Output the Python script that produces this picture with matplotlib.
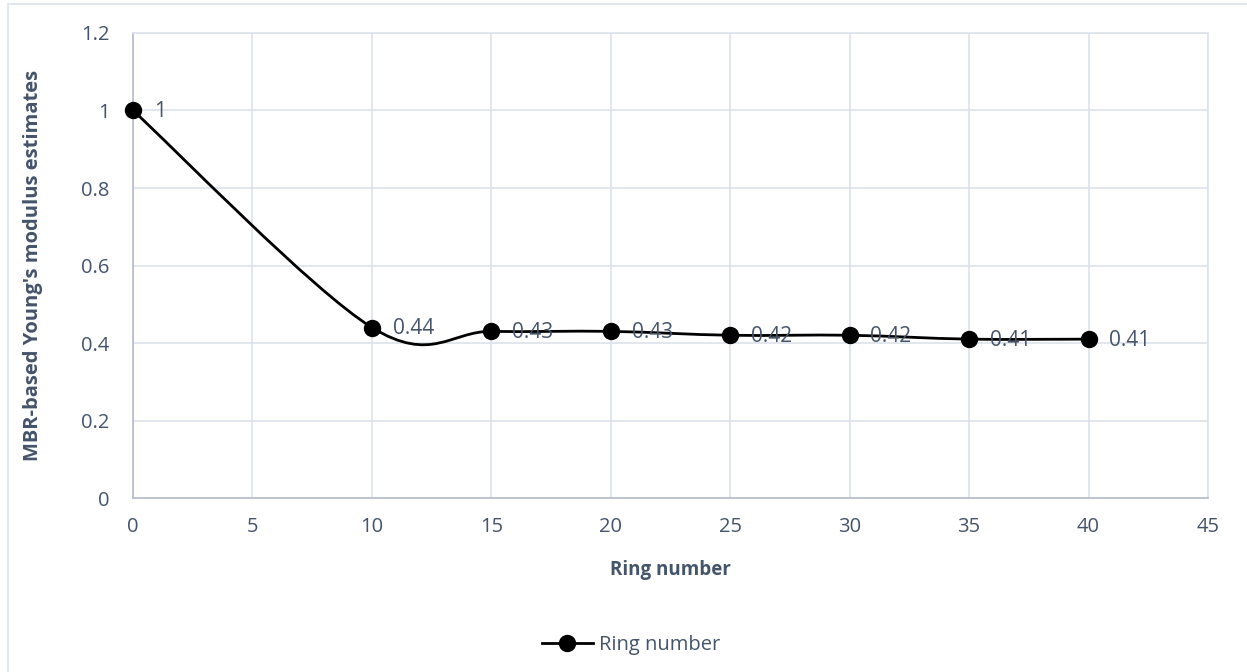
import matplotlib.pyplot as plt
from matplotlib.lines import Line2D
from matplotlib.patches import PathPatch, Rectangle
from matplotlib.path import Path

rings = [0, 10, 15, 20, 25, 30, 35, 40]
modulus = [1, 0.44, 0.43, 0.43, 0.42, 0.42, 0.41, 0.41]
labels = ["1", "0.44", "0.43", "0.43", "0.42", "0.42", "0.41", "0.41"]

TEXT = "#44546A"
GRID = "#DDE1EA"
AXIS = "#B4BCCC"

plt.rcParams["font.family"] = ["Open Sans", "DejaVu Sans"]


def smooth_path(xs, ys):
    # bezier segments like a spreadsheet "smoothed line"
    pts = list(zip(xs, ys))
    verts = [pts[0]]
    codes = [Path.MOVETO]
    n = len(pts)
    for i in range(n - 1):
        p0 = pts[i - 1] if i > 0 else pts[i]
        p1 = pts[i]
        p2 = pts[i + 1]
        p3 = pts[i + 2] if i + 2 < n else pts[i + 1]
        c1 = (p1[0] + (p2[0] - p0[0]) / 6, p1[1] + (p2[1] - p0[1]) / 6)
        c2 = (p2[0] - (p3[0] - p1[0]) / 6, p2[1] - (p3[1] - p1[1]) / 6)
        verts += [c1, c2, p2]
        codes += [Path.CURVE4] * 3
    return Path(verts, codes)


fig = plt.figure(figsize=(12.47, 6.72), dpi=100)
ax = fig.add_axes([0.1067, 0.2589, 0.862, 0.692])

# chart area border (only top and left edges fall inside the image)
fig.patches.append(Rectangle((8 / 1247, -0.1), 1.1, 1.1 - 4 / 672, transform=fig.transFigure,
                             fill=False, edgecolor=GRID, linewidth=1.2))

ax.add_patch(PathPatch(smooth_path(rings, modulus), facecolor="none",
                       edgecolor="black", linewidth=2.0, zorder=3))
ax.plot(rings, modulus, linestyle="none", marker="o", markersize=11.5,
        color="black", zorder=4, clip_on=False)

for x, y, s in zip(rings, modulus, labels):
    ax.annotate(s, (x, y), xytext=(15, -1), textcoords="offset points",
                ha="left", va="center", fontsize=15, color=TEXT, zorder=5)

ax.set_xlim(0, 45)
ax.set_ylim(0, 1.2)
ax.set_xticks(range(0, 46, 5))
ax.set_yticks([0, 0.2, 0.4, 0.6, 0.8, 1, 1.2])
ax.set_yticklabels(["0", "0.2", "0.4", "0.6", "0.8", "1", "1.2"])
ax.grid(True, color=GRID, linewidth=1.2)
ax.set_axisbelow(True)
ax.tick_params(length=0, labelsize=14.5, colors=TEXT)
ax.tick_params(axis="x", pad=14)
ax.tick_params(axis="y", pad=17)

for side in ["top", "right"]:
    ax.spines[side].set_color(GRID)
    ax.spines[side].set_linewidth(1.2)
for side in ["left", "bottom"]:
    ax.spines[side].set_color(AXIS)
    ax.spines[side].set_linewidth(1.2)

ax.set_xlabel("Ring number", fontsize=13.5, fontweight="bold", color=TEXT, labelpad=16)
ax.set_ylabel("MBR-based Young's modulus estimates", fontsize=14.5, fontweight="bold",
              color=TEXT, labelpad=27)

handle = Line2D([], [], color="black", linewidth=2.0, marker="o", markersize=11.5)
fig.legend([handle], ["Ring number"], loc="center", bbox_to_anchor=(0.506, 0.04),
           frameon=False, fontsize=14.5, labelcolor=TEXT, handlelength=2.5,
           handletextpad=0.3)

fig.savefig("out.png", dpi=100)
